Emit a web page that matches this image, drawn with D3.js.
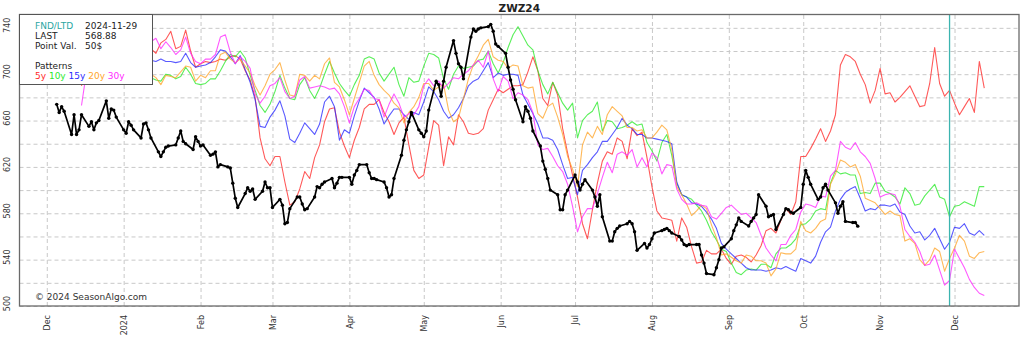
<!DOCTYPE html>
<html>
<head>
<meta charset="utf-8">
<script src="https://cdn.jsdelivr.net/npm/d3@7"></script>
<style>
  html, body { margin: 0; padding: 0; background: #fff; }
  svg { display: block; font-family: "DejaVu Sans", sans-serif; }
</style>
</head>
<body>
<svg id="chart" width="1024" height="340"></svg>
<script>
// ---- Contract and seasonal pattern data -------------------------------
const contract = "ZWZ24";
const fndDate = "2024-11-29";
const lastPrice = "568.88";
const pointValue = "50$";

const patternNames = ["5y", "10y", "15y", "20y", "30y"];
const patternColors = ["#ff2a2a", "#2bea2b", "#2a2aff", "#ffa52a", "#ff2aff"];

// Seasonal patterns, one value every two calendar days from patternStart
const patternStart = "2023-12-15";
const patternStepDays = 2;

const pattern5y = [690, 712, 720, 715, 725, 718, 730, 722, 714, 726, 733, 720, 728, 716, 722,
  718, 727, 730, 737, 722, 724, 738, 720, 706, 709, 711, 710, 711,
  713, 712, 715, 716, 713, 703, 695, 680, 645, 627, 621, 629, 629, 607, 587, 590, 601, 616, 610, 628, 639, 659, 670, 671, 650, 638, 628, 643, 654, 670, 674, 674, 678, 667, 659, 648, 658, 663, 639, 617, 610,
  613, 637, 660, 656, 621, 646, 639, 665, 659, 649, 648, 649, 653, 669, 678, 687, 684, 687, 690, 690, 691, 702, 715, 703, 679, 673, 693, 682, 653, 632, 613, 594, 571, 558, 583, 606, 625, 633, 631, 645,
  642, 627, 653, 647, 650, 628, 603, 582, 576, 575, 574, 556, 576, 568, 551, 537, 538, 548, 545, 545, 549, 541, 536, 543, 544, 542, 538, 544, 552, 565, 567, 563, 574, 584, 579, 590, 629, 629, 636, 644, 653,
  642, 651, 665, 708, 717, 715, 711, 700, 691, 675, 686, 705, 683, 684, 676, 680, 685, 690, 681, 672, 673, 692, 723, 692, 681, 686, 675, 665, 672, 679, 667, 711, 688];

const pattern10y = [698, 702, 708, 700, 704, 710, 702, 698, 704, 700, 696, 700, 698, 694, 697,
  695, 694, 700, 699, 696, 698, 706, 700, 692, 691, 692, 696, 696,
  703, 711, 717, 715, 720, 714, 699, 686, 673, 667, 674, 685, 699, 688, 679, 678, 691, 697, 686, 679, 688, 700, 711, 701, 692, 686, 681, 691, 699, 713, 715, 713, 701, 694, 700, 706, 691, 681, 697, 693, 694,
  707, 718, 717, 714, 696, 687, 700, 707, 705, 706, 707, 712, 713, 720, 709, 701, 710, 723, 734, 741, 733, 725, 721, 703, 691, 683, 693, 684, 675, 669, 675, 645, 660, 665, 668, 676, 651, 660, 659, 653,
  654, 656, 659, 656, 657, 641, 634, 625, 641, 648, 630, 606, 596, 594, 592, 587, 582, 574, 564, 557, 549, 547, 537, 529, 527, 531, 532, 531, 536, 536, 533, 545, 550, 550, 553, 558, 570, 571, 575, 582, 584,
  583, 606, 617, 614, 615, 613, 613, 597, 598, 597, 606, 606, 599, 597, 594, 588, 602, 597, 587, 588, 595, 600, 605, 594, 592, 577, 586, 587, 590, 588, 586, 603, 603];

const pattern15y = [712, 715, 708, 718, 714, 720, 712, 716, 722, 714, 710, 716, 712, 708, 712,
  711, 713, 711, 711, 710, 711, 718, 710, 706, 707, 708, 710, 715,
  721, 720, 715, 709, 716, 704, 693, 678, 655, 654, 663, 669, 677, 664, 644, 641, 649, 658, 653, 648, 657, 676, 681, 672, 643, 652, 649, 664, 677, 688, 684, 680, 670, 657, 664, 670, 670, 665, 661, 667, 665,
  676, 689, 685, 678, 668, 662, 665, 671, 679, 690, 694, 696, 703, 710, 697, 701, 699, 700, 700, 699, 682, 674, 666, 657, 645, 645, 643, 635, 622, 610, 611, 596, 617, 622, 628, 633, 642, 642, 648, 654,
  662, 656, 653, 648, 648, 645, 645, 644, 643, 642, 640, 607, 596, 594, 589, 588, 586, 581, 575, 567, 554, 549, 545, 541, 537, 533, 531, 531, 531, 530, 531, 533, 532, 534, 532, 530, 541, 539, 537, 543, 555,
  564, 568, 582, 592, 598, 601, 603, 593, 582, 584, 583, 587, 587, 586, 588, 581, 579, 569, 563, 564, 557, 561, 567, 558, 549, 555, 568, 567, 571, 563, 561, 565, 561];

const pattern20y = [700, 706, 712, 704, 710, 716, 708, 702, 710, 706, 700, 704, 698, 702, 700,
  697, 691, 699, 698, 697, 702, 707, 706, 694, 699, 697, 703, 703,
  717, 719, 713, 710, 713, 707, 701, 690, 682, 690, 700, 704, 710, 695, 682, 681, 700, 699, 694, 699, 696, 709, 714, 693, 689, 678, 665, 679, 693, 707, 711, 699, 691, 686, 682, 675, 671, 658, 667, 672, 680,
  692, 692, 686, 689, 691, 669, 659, 662, 679, 696, 708, 716, 725, 730, 715, 712, 711, 705, 708, 707, 690, 688, 689, 666, 662, 672, 675, 663, 648, 629, 618, 603, 639, 650, 645, 655, 648, 665, 672, 668,
  664, 654, 654, 651, 652, 645, 645, 650, 656, 652, 635, 603, 596, 588, 578, 582, 587, 584, 570, 559, 544, 545, 542, 539, 537, 544, 543, 539, 539, 537, 526, 532, 546, 545, 545, 549, 573, 565, 563, 567, 573,
  575, 605, 614, 626, 624, 620, 622, 612, 593, 591, 589, 584, 579, 582, 579, 578, 556, 558, 554, 540, 535, 540, 550, 547, 530, 541, 550, 561, 556, 543, 541, 546, 547];

const pattern30y = [673, 702, 715, 725, 718, 730, 735, 722, 728, 736, 725, 718, 730, 724, 728,
  731, 722, 728, 723, 717, 721, 732, 718, 711, 709, 713, 713, 717,
  732, 734, 719, 709, 715, 711, 705, 683, 675, 681, 690, 692, 697, 685, 679, 681, 695, 698, 688, 689, 690, 689, 687, 688, 683, 672, 658, 672, 679, 687, 686, 679, 678, 663, 674, 683, 675, 663, 666, 665, 672,
  690, 696, 690, 694, 688, 692, 697, 696, 700, 703, 708, 712, 706, 720, 696, 685, 698, 694, 679, 684, 682, 678, 667, 639, 635, 636, 629, 621, 616, 605, 586, 564, 577, 584, 584, 597, 611, 624, 615, 631,
  633, 630, 635, 620, 628, 620, 632, 628, 614, 622, 621, 601, 592, 588, 588, 589, 587, 586, 577, 575, 580, 585, 587, 583, 579, 580, 576, 572, 561, 550, 544, 539, 553, 553, 561, 566, 581, 588, 587, 585, 595,
  594, 612, 617, 642, 637, 635, 641, 633, 629, 623, 610, 594, 596, 597, 596, 586, 566, 560, 555, 547, 535, 536, 544, 531, 518, 522, 549, 541, 533, 523, 516, 511, 509];

// Daily settlement prices, one per weekday from priceStart to priceEnd
const priceStart = "2023-12-05";
const priceEnd = "2024-10-23";
const prices = [674, 667, 672, 668,
  648, 665, 648, 652, 665,  655, 659, 652, 658, 660,  677, 662, 670, 669, 663,
  652, 649, 659, 656, 652,  645, 657, 658, 652, 645,  633, 629, 633, 637, 638,
  639, 645, 651, 642, 640,  635, 646, 642, 638, 639,  630, 631, 633, 620, 622,
  620, 619, 606, 593, 585,  597, 602, 599, 601, 592,  599, 607, 602, 602, 585,
  592, 587, 571, 572, 584,  594, 594, 588, 583, 584,  594, 603, 602, 605, 607,
  610, 602, 606, 611, 611,  611, 605, 613, 617, 622,  622, 615, 610, 610, 609,
  607, 602, 594, 596, 610,  630, 643, 652, 659, 667,  652, 649, 646, 651, 669,
  694, 691, 681, 694, 706,  729, 718, 709, 706, 696,  732, 739, 737, 739, 740,
  741, 743, 737, 726, 724,  718, 706, 695, 687, 678,  659, 672, 668, 662, 651,
  638, 625, 618, 610, 600,  596, 583, 583, 596, 600,  613, 607, 600, 605, 609,
  600, 594, 586, 596, 577,  556, 556, 564, 567, 569,  571, 573, 571, 564, 548,
  554, 550, 553, 558, 563,  565, 566, 567, 565, 563,  560, 557, 553, 552, 553,
  553, 553, 544, 537, 528,  527, 533, 540, 550, 551,  558, 565, 570, 576, 573,
  569, 573, 576, 579, 596,  586, 577, 578, 579, 566,  579, 584, 583, 581, 580,
  585, 605, 617, 611, 605,  592, 594, 602, 605, 600,  589, 580, 586, 590, 573,
  572, 572, 568.88];

const yTickValues = [500, 540, 580, 620, 660, 700, 740];
const xDomain = ["2023-11-20", "2024-12-27"];

// ---- Layout -----------------------------------------------------------
const W = 1024, H = 340;
const plot = { left: 19.5, right: 1019, top: 14.5, bottom: 306 };

const parse = d3.utcParse("%Y-%m-%d");
const svg = d3.select("#chart");

const x = d3.scaleUtc().domain(xDomain.map(parse)).range([plot.left, plot.right]);
const y = d3.scaleLinear().domain([500, 751.5]).range([plot.bottom, plot.top]);

// ---- Build series ------------------------------------------------------
const pStart = parse(patternStart);
const patterns = [pattern5y, pattern10y, pattern15y, pattern20y, pattern30y].map((vals, k) => ({
  name: patternNames[k],
  color: patternColors[k],
  points: vals.map((v, i) => ({ date: d3.utcDay.offset(pStart, i * patternStepDays), v }))
}));

const tradingDays = d3.utcDay.range(parse(priceStart), d3.utcDay.offset(parse(priceEnd), 1))
  .filter(d => d.getUTCDay() !== 0 && d.getUTCDay() !== 6);
const pricePoints = prices.map((v, i) => ({ date: tradingDays[i], v }));

// ---- Grid --------------------------------------------------------------
const monthTicks = d3.utcMonth.range(parse("2023-12-01"), parse("2024-12-02"));
const gridValues = d3.range(500, 741, 20);

svg.append("defs").append("clipPath").attr("id", "plotClip")
  .append("rect")
  .attr("x", plot.left).attr("y", plot.top)
  .attr("width", plot.right - plot.left).attr("height", plot.bottom - plot.top);

const grid = svg.append("g").attr("class", "grid");
grid.append("g")
  .attr("transform", `translate(${plot.left},0)`)
  .call(d3.axisLeft(y).tickValues(gridValues).tickSize(-(plot.right - plot.left)).tickFormat(""))
  .call(g => g.select(".domain").remove())
  .call(g => g.selectAll("line").attr("stroke", "#c8c8c8").attr("stroke-dasharray", "4,3"));
grid.append("g")
  .attr("transform", `translate(0,${plot.bottom})`)
  .call(d3.axisBottom(x).tickValues(monthTicks).tickSize(-(plot.bottom - plot.top)).tickFormat(""))
  .call(g => g.select(".domain").remove())
  .call(g => g.selectAll("line").attr("stroke", "#c8c8c8").attr("stroke-dasharray", "4,3"));

// ---- Lines -------------------------------------------------------------
const line = d3.line().x(d => x(d.date)).y(d => y(d.v));
const marks = svg.append("g").attr("clip-path", "url(#plotClip)");

marks.selectAll("path.pattern")
  .data(patterns)
  .join("path")
  .attr("class", "pattern")
  .attr("fill", "none")
  .attr("stroke", d => d.color)
  .attr("stroke-opacity", 0.78)
  .attr("stroke-width", 1.1)
  .attr("stroke-linejoin", "round")
  .attr("d", d => line(d.points));

marks.append("path")
  .attr("fill", "none")
  .attr("stroke", "#000")
  .attr("stroke-width", 1.7)
  .attr("stroke-linejoin", "round")
  .attr("d", line(pricePoints));

marks.selectAll("circle.price")
  .data(pricePoints)
  .join("circle")
  .attr("class", "price")
  .attr("cx", d => x(d.date))
  .attr("cy", d => y(d.v))
  .attr("r", 1.7)
  .attr("fill", "#000");

// First notice / last trading day marker
marks.append("line")
  .attr("x1", x(parse(fndDate))).attr("x2", x(parse(fndDate)))
  .attr("y1", plot.top).attr("y2", plot.bottom)
  .attr("stroke", "#3cb4b0").attr("stroke-width", 1.3);

// ---- Frame and axes ----------------------------------------------------
svg.append("rect")
  .attr("x", plot.left).attr("y", plot.top)
  .attr("width", plot.right - plot.left).attr("height", plot.bottom - plot.top)
  .attr("fill", "none").attr("stroke", "#6a6a6a").attr("stroke-width", 1.3);

const monthFmt = d3.utcFormat("%b");
svg.append("g")
  .attr("transform", `translate(0,${plot.bottom})`)
  .call(d3.axisBottom(x).tickValues(monthTicks).tickSize(0)
    .tickFormat(d => d.getUTCMonth() === 0 ? d3.utcFormat("%Y")(d) : monthFmt(d)))
  .call(g => g.select(".domain").remove())
  .call(g => g.selectAll("text")
    .attr("x", 0).attr("y", 0).attr("dy", "0.35em")
    .attr("transform", "translate(0,9) rotate(-90)")
    .attr("text-anchor", "end")
    .attr("fill", "#333")
    .style("font-size", "8px")
    .style("font-family", "DejaVu Sans, sans-serif"));

svg.append("g")
  .attr("transform", `translate(${plot.left},0)`)
  .call(d3.axisLeft(y).tickValues(yTickValues).tickSize(0))
  .call(g => g.select(".domain").remove())
  .call(g => g.selectAll("text")
    .attr("x", 0).attr("y", 0).attr("dy", "0.35em")
    .attr("transform", "translate(-12,-3) rotate(-90)")
    .attr("text-anchor", "middle")
    .attr("fill", "#333")
    .style("font-size", "8px")
    .style("font-family", "DejaVu Sans, sans-serif"));

// ---- Title -------------------------------------------------------------
svg.append("text")
  .attr("x", (plot.left + plot.right) / 2).attr("y", 11.5)
  .attr("text-anchor", "middle")
  .attr("font-size", 10.5).attr("font-weight", "bold").attr("fill", "#222")
  .text(contract);

// ---- Info box ----------------------------------------------------------
const box = svg.append("g");
box.append("rect")
  .attr("x", plot.left).attr("y", plot.top)
  .attr("width", 133).attr("height", 70)
  .attr("fill", "#fff").attr("stroke", "#555").attr("stroke-width", 1);

const info = [
  { label: "FND/LTD", value: fndDate, color: "#2aa6a2", y: 28.5 },
  { label: "LAST", value: lastPrice, color: "#222", y: 38.5 },
  { label: "Point Val.", value: pointValue, color: "#222", y: 48.5 }
];
info.forEach(r => {
  box.append("text").attr("x", 35).attr("y", r.y).attr("font-size", 9).attr("fill", r.color).text(r.label);
  box.append("text").attr("x", 85).attr("y", r.y).attr("font-size", 9).attr("fill", "#222").text(r.value);
});
box.append("text").attr("x", 35).attr("y", 68.5).attr("font-size", 9).attr("fill", "#222").text("Patterns");
const keys = box.append("text").attr("x", 35).attr("y", 79).attr("font-size", 9);
patternNames.forEach((n, i) => {
  keys.append("tspan").attr("fill", patternColors[i]).text(n + (i < patternNames.length - 1 ? " " : ""));
});

// ---- Footer ------------------------------------------------------------
svg.append("text")
  .attr("x", 35).attr("y", 300)
  .attr("font-size", 9).attr("fill", "#333")
  .text("\u00a9 2024 SeasonAlgo.com");
</script>
</body>
</html>
